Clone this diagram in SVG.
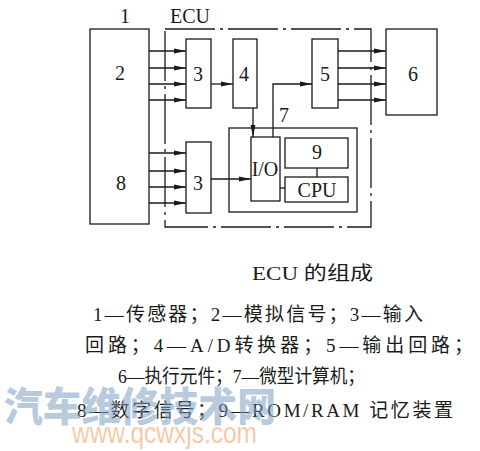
<svg xmlns="http://www.w3.org/2000/svg" width="480" height="451" viewBox="0 0 480 451">
<defs>
<marker id="ah" viewBox="0 0 12 6" refX="12" refY="3" markerWidth="12" markerHeight="6" markerUnits="userSpaceOnUse" orient="auto">
<path d="M0,0.6 L12,3 L0,5.4 Z" fill="#1a1a1a"/>
</marker>
<style>
.b{fill:none;stroke:#1a1a1a;stroke-width:1.3}
.c{fill:none;stroke:#1a1a1a;stroke-width:1.3;marker-end:url(#ah)}
.l{fill:none;stroke:#1a1a1a;stroke-width:1.3}
.t{font-family:"Liberation Serif","Times New Roman",serif;font-size:20px;fill:#1a1a1a;text-anchor:middle}
.cap{font-family:"Liberation Serif","Noto Sans CJK SC",serif;font-size:19px;fill:#1a1a1a}
</style>
</defs>
<rect width="480" height="451" fill="#ffffff"/>

<g id="ecu">
<rect class="b" x="165" y="29" width="206" height="198" stroke-dasharray="50 5 3 5"/>
<text class="t" x="190" y="23" font-size="19">ECU</text>
</g>
<g id="n1">
<rect class="b" x="90" y="29" width="59" height="195"/>
<text class="t" x="125" y="23">1</text>
<text class="t" x="120" y="80">2</text>
<text class="t" x="121" y="190">8</text>
</g>
<g id="n3a"><rect class="b" x="186" y="39" width="25" height="69"/><text class="t" x="198" y="81">3</text></g>
<g id="n4"><rect class="b" x="233" y="39" width="24" height="69"/><text class="t" x="244" y="81">4</text></g>
<g id="n5"><rect class="b" x="312" y="39" width="26" height="69"/><text class="t" x="325" y="81">5</text></g>
<g id="n6"><rect class="b" x="386" y="29" width="51" height="86"/><text class="t" x="413" y="81">6</text></g>
<g id="n3b"><rect class="b" x="186" y="142" width="25" height="71"/><text class="t" x="198" y="190">3</text></g>
<g id="n7"><rect class="b" x="229" y="128" width="128" height="84"/><text class="t" x="284" y="122">7</text></g>
<g id="io"><rect class="b" x="251" y="137" width="29" height="64"/><text class="t" x="265" y="176" font-size="18">I/O</text></g>
<g id="n9"><rect class="b" x="285" y="138" width="63" height="30"/><text class="t" x="317" y="159">9</text></g>
<g id="cpu"><rect class="b" x="285" y="177" width="63" height="25"/><text class="t" x="317" y="197" font-size="19">CPU</text></g>

<g id="connectors">
<path class="c" d="M149,51H186"/>
<path class="c" d="M149,68H186"/>
<path class="c" d="M149,84H186"/>
<path class="c" d="M149,100H186"/>
<path class="c" d="M149,153H186"/>
<path class="c" d="M149,171H186"/>
<path class="c" d="M149,187H186"/>
<path class="c" d="M149,203H186"/>
<path class="c" d="M211,84H233"/>
<path class="c" d="M211,179H251"/>
<path class="c" d="M253,108V137"/>
<path class="c" d="M273,137V84H312"/>
<path class="c" d="M338,51H386"/>
<path class="c" d="M338,68H386"/>
<path class="c" d="M338,84H386"/>
<path class="c" d="M338,100H386"/>
<path class="l" d="M317,168V177"/>
<path class="l" d="M280,188H285"/>
</g>

<g id="caption">
<text class="cap" x="252" y="280" font-size="21" textLength="121" lengthAdjust="spacingAndGlyphs">ECU 的组成</text>
<text class="cap" x="93" y="321" textLength="330" lengthAdjust="spacing">1—传感器；2—模拟信号；3—输入</text>
<text class="cap" x="85" y="352" textLength="388" lengthAdjust="spacing">回路；4—A/D转换器；5—输出回路；</text>
<text class="cap" x="118" y="383" font-size="18" textLength="247" lengthAdjust="spacingAndGlyphs">6—执行元件；7—微型计算机；</text>
<text class="cap" x="77" y="417" textLength="376" lengthAdjust="spacing">8—数字信号；9—ROM/RAM 记忆装置</text>
</g>

<g id="watermark" opacity="0.55">
<text x="4" y="421" font-family="'Noto Sans CJK SC',sans-serif" font-size="40" font-weight="900" fill="#7f9fc4" textLength="272" lengthAdjust="spacingAndGlyphs">汽车维修技术网</text>
<text x="72" y="443" font-family="'Liberation Sans',Arial,sans-serif" font-size="29" fill="#f0a060" textLength="185" lengthAdjust="spacingAndGlyphs">www.qcwxjs.com</text>
</g>
</svg>
